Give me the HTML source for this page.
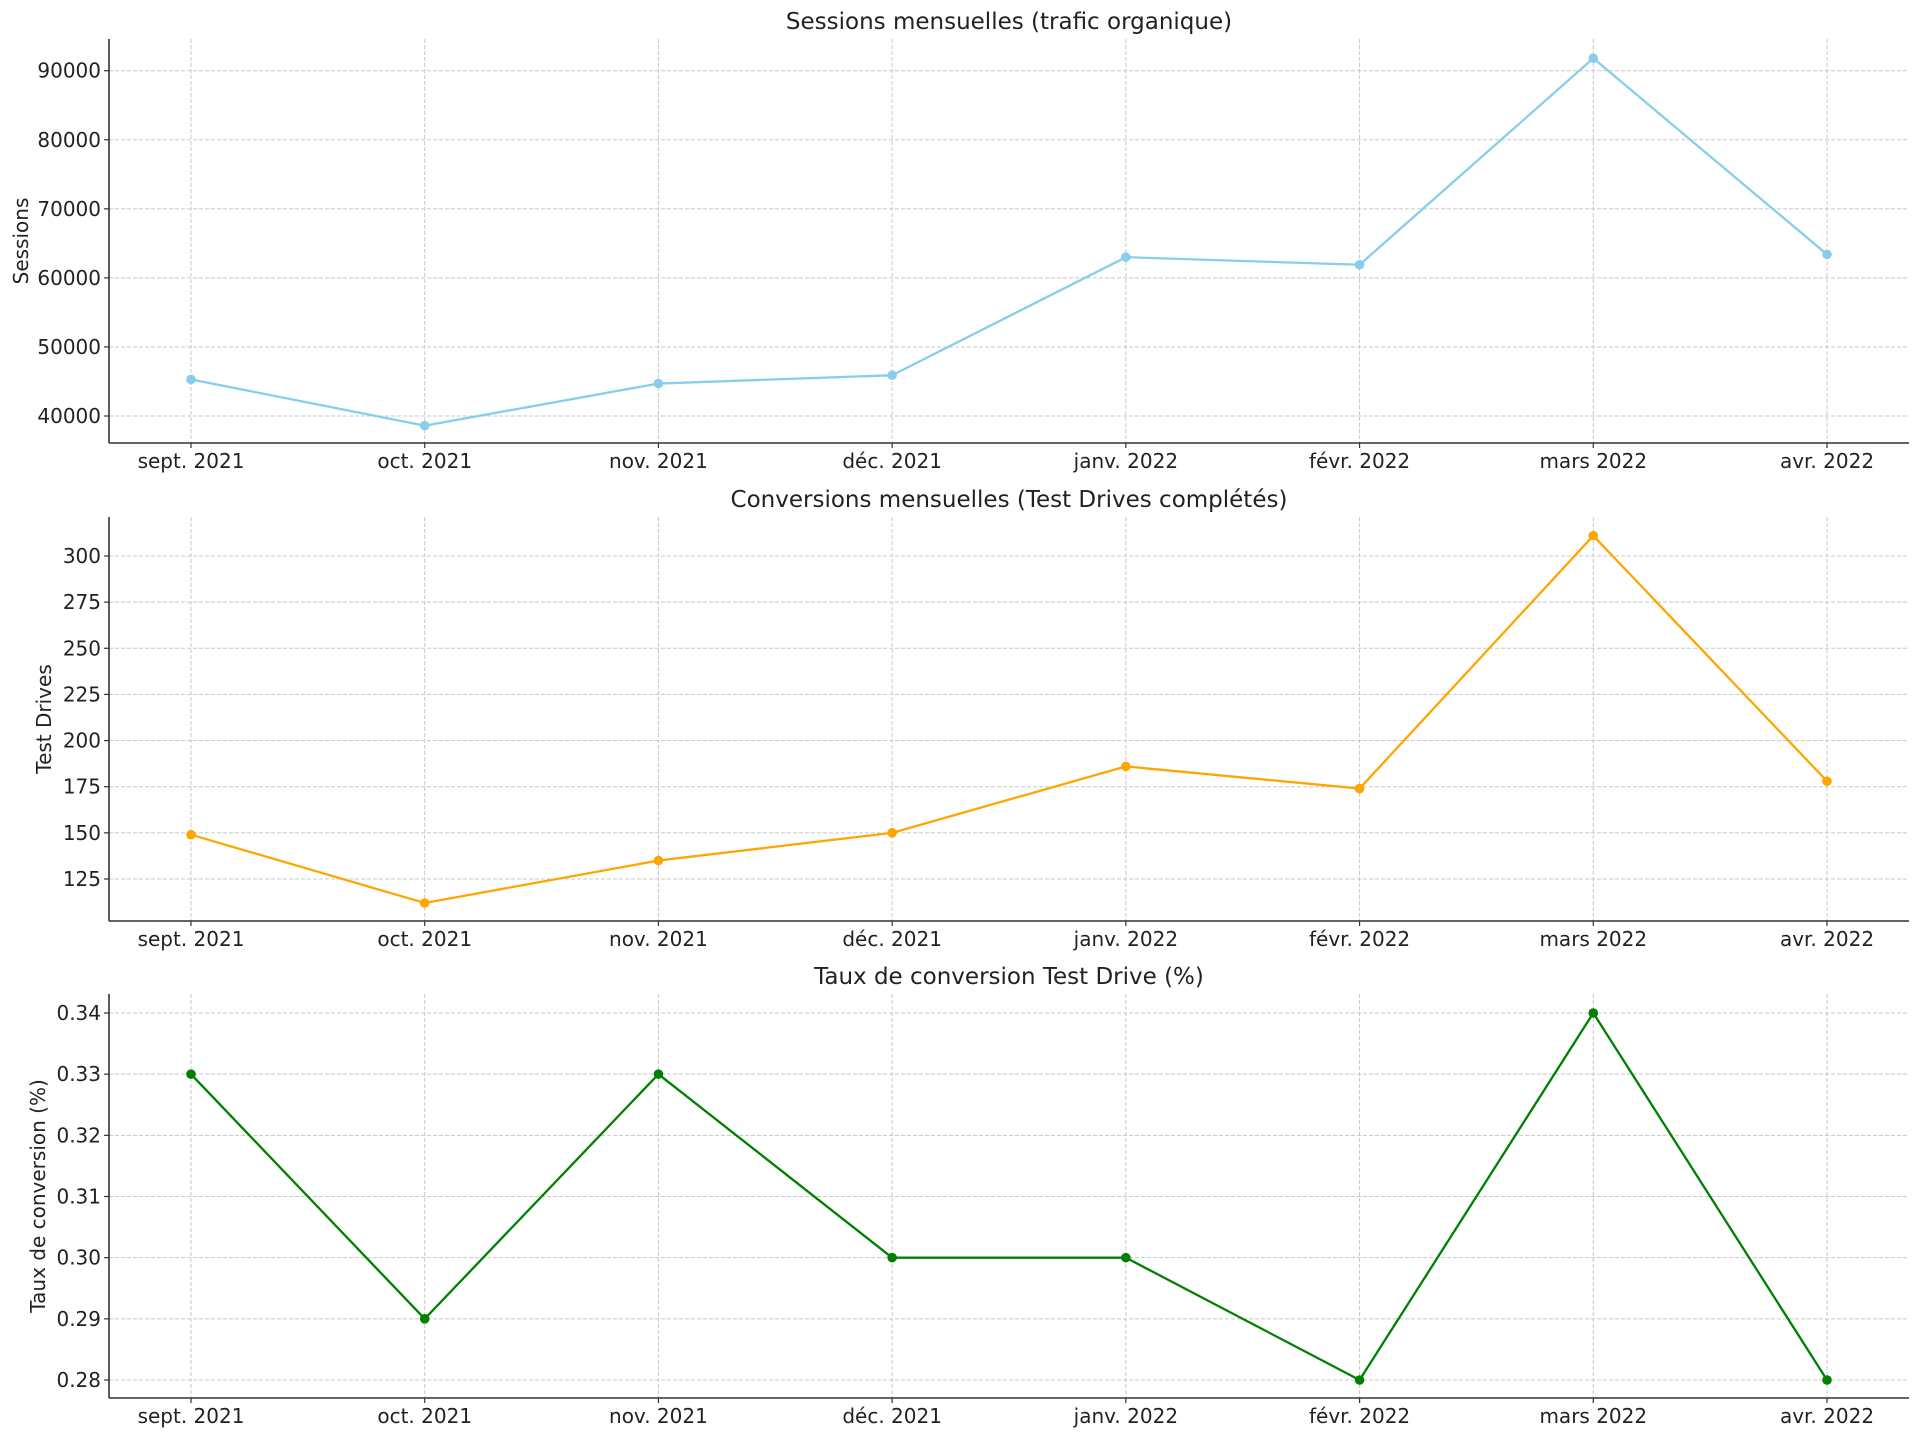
<!DOCTYPE html>
<html><head><meta charset="utf-8"><style>
html,body{margin:0;padding:0;background:#fff}
svg{display:block;font-family:"DejaVu Sans","Liberation Sans",sans-serif}
</style></head><body>
<svg id="chart" width="1920" height="1437" viewBox="0 0 1920 1437" xmlns="http://www.w3.org/2000/svg"></svg>
<script>
const months = ["sept. 2021","oct. 2021","nov. 2021","déc. 2021","janv. 2022","févr. 2022","mars 2022","avr. 2022"];
const sessions = [45300, 38600, 44700, 45900, 63000, 61900, 91800, 63400];
const testDrives = [149, 112, 135, 150, 186, 174, 311, 178];
const convRate = [0.33, 0.29, 0.33, 0.30, 0.30, 0.28, 0.34, 0.28];
const sessionTicks = [40000, 50000, 60000, 70000, 80000, 90000];
const driveTicks = [125, 150, 175, 200, 225, 250, 275, 300];
const rateTicks = [0.28, 0.29, 0.30, 0.31, 0.32, 0.33, 0.34];

const NS = "http://www.w3.org/2000/svg";
const svg = document.getElementById("chart");
function mk(tag, attrs, parent){const e=document.createElementNS(NS,tag);for(const k in attrs)e.setAttribute(k,attrs[k]);(parent||svg).appendChild(e);return e;}

const X0=109, X1=1909, firstX=191, lastX=1827;
const xScale = i => firstX + i*(lastX-firstX)/(months.length-1);

const panels = [
 {name:"sessions", title:"Sessions mensuelles (trafic organique)", ylabel:"Sessions", data:sessions, ticks:sessionTicks, fmt:v=>String(v), color:"#87ceeb",
  top:39, bottom:443, v0:40000, p0:416, v1:90000, p1:70.7, ylx:22},
 {name:"test-drives", title:"Conversions mensuelles (Test Drives complétés)", ylabel:"Test Drives", data:testDrives, ticks:driveTicks, fmt:v=>String(v), color:"#ffa500",
  top:517, bottom:921, v0:125, p0:879, v1:300, p1:556, ylx:45},
 {name:"conversion-rate", title:"Taux de conversion Test Drive (%)", ylabel:"Taux de conversion (%)", data:convRate, ticks:rateTicks, fmt:v=>v.toFixed(2), color:"#008000",
  top:994, bottom:1398, v0:0.28, p0:1380, v1:0.34, p1:1013, ylx:39}
];

panels.forEach(p=>{
  const g = mk("g",{});
  
  
  const y = v => p.p0 + (v-p.v0)*(p.p1-p.p0)/(p.v1-p.v0);
  months.forEach((m,i)=>{
    const gl = mk("line",{x1:xScale(i),x2:xScale(i),y1:p.top,y2:p.bottom,stroke:"#c8c8c8","stroke-width":1,"stroke-dasharray":"4,2"},g);
    
    
  });
  p.ticks.forEach(t=>{
    const gl = mk("line",{x1:X0,x2:X1,y1:y(t),y2:y(t),stroke:"#c8c8c8","stroke-width":1,"stroke-dasharray":"4,2"},g);
    
    
    const tk = mk("line",{x1:X0-5,x2:X0,y1:y(t),y2:y(t),stroke:"#333","stroke-width":1.2},g);
    
    
    const tl = mk("text",{x:X0-8,y:y(t)+7,"text-anchor":"end","font-size":"20",fill:"#222"},g);
    tl.textContent = p.fmt(t);
    
    
  });
  months.forEach((m,i)=>{
    const tk = mk("line",{x1:xScale(i),x2:xScale(i),y1:p.bottom,y2:p.bottom+5,stroke:"#333","stroke-width":1.2},g);
    
    
    const tl = mk("text",{x:xScale(i),y:p.bottom+25,"text-anchor":"middle","font-size":"20",fill:"#222"},g);
    tl.textContent = m;
    
    
  });
  const sl = mk("line",{x1:X0,x2:X0,y1:p.top,y2:p.bottom,stroke:"#333","stroke-width":1.6},g);
  
  
  const sb = mk("line",{x1:X0,x2:X1,y1:p.bottom,y2:p.bottom,stroke:"#333","stroke-width":1.6},g);
  
  
  const pts = p.data.map((v,i)=>xScale(i)+","+y(v)).join(" ");
  const ln = mk("polyline",{points:pts,fill:"none",stroke:p.color,"stroke-width":2.3},g);
  
  
  p.data.forEach((v,i)=>{
    const c = mk("circle",{cx:xScale(i),cy:y(v),r:4.8,fill:p.color},g);
    
    
  });
  const tt = mk("text",{x:(X0+X1)/2,y:p.top-10,"text-anchor":"middle","font-size":"23",fill:"#222"},g);
  tt.textContent = p.title;
  
  
  const cy = (p.top+p.bottom)/2;
  const yl = mk("text",{x:0,y:0,"text-anchor":"middle","font-size":"20",fill:"#222",transform:`translate(${p.ylx+6},${cy}) rotate(-90)`},g);
  yl.textContent = p.ylabel;
  
  
});
</script>
</body></html>
